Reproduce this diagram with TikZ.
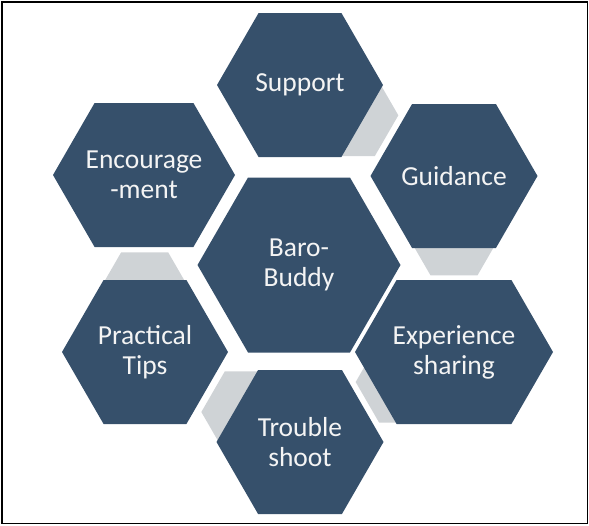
\documentclass[tikz,border=0pt]{standalone}
\usepackage{fontspec}
\setmainfont{Carlito}
\usetikzlibrary{calc, backgrounds}
\definecolor{cslate}{HTML}{36506B}
\definecolor{clink}{HTML}{CFD3D6}
\definecolor{ctext}{HTML}{F4F4F4}
\tikzset{
  every picture/.style={x=1pt, y=-1pt},
  hexfill/.style={fill=cslate},
  linkfill/.style={fill=clink},
  hextext/.style={text=ctext, align=center, inner sep=0pt, font=\fontsize{27.5}{30}\selectfont},
  frame/.style={draw=black, line width=1.2pt},
}
% flat-topped hexagon: style, centre, half width, half height
\newcommand{\hexshape}[4]{\fill[#1] #2 ++(-#3,0) -- ++({0.5774*#4},-#4) -- ++({2*#3-1.1547*#4},0) -- ++({0.5774*#4},#4) -- ++({-0.5774*#4},#4) -- ++({-2*#3+1.1547*#4},0) -- cycle;}

\begin{document}
\begin{tikzpicture}
  \useasboundingbox (0,0) rectangle (589,525);
  \node[hextext] (baro) at (299,265) {Baro-\\Buddy};
  \node[hextext] (sup) at (300,85) {Support};
  \node[hextext] (gui) at (454,176) {Guidance};
  \node[hextext] (exp) at (454,352) {Experience\\sharing};
  \node[hextext] (tro) at (300,442) {Trouble\\shoot};
  \node[hextext] (pra) at (145,352) {Practical\\Tips};
  \node[hextext] (enc) at (144,175) {Encourage\\-ment};
  \begin{scope}[on background layer]
    % grey links, a third of the way to the next hexagon
    \foreach \a/\b in {sup/gui, gui/exp, exp/tro, tro/pra, pra/enc}
      {\hexshape{linkfill}{($(\a.center)!1/3!(\b.center)$)}{47}{40.7}}
    \hexshape{hexfill}{(sup.center)}{83}{72}
    \hexshape{hexfill}{(gui.center)}{83.5}{72}
    \hexshape{hexfill}{(exp.center)}{99}{72}
    \hexshape{hexfill}{(tro.center)}{83.5}{72}
    \hexshape{hexfill}{(pra.center)}{83}{72}
    \hexshape{hexfill}{(enc.center)}{91}{72}
    \hexshape{hexfill}{(baro.center)}{101.5}{87.5}
  \end{scope}
  \draw[frame] (2,2) rectangle (587.5,523.5);
\end{tikzpicture}
\end{document}
